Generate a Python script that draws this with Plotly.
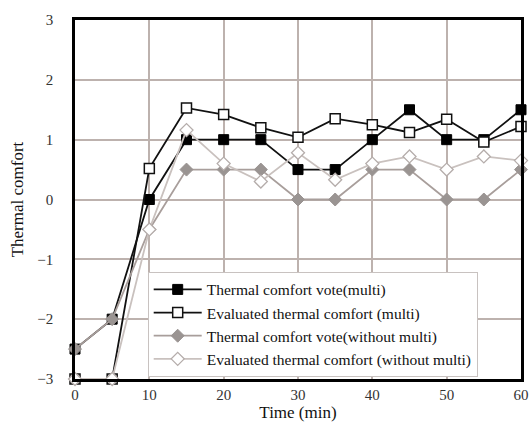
import plotly.graph_objects as go

time_min = [0, 5, 10, 15, 20, 25, 30, 35, 40, 45, 50, 55, 60]
vote_multi = [-2.5, -2, 0, 1, 1, 1, 0.5, 0.5, 1, 1.5, 1, 1, 1.5]
eval_multi = [-3, -3, 0.52, 1.53, 1.42, 1.2, 1.04, 1.35, 1.25, 1.12, 1.34, 0.96, 1.22]
vote_without = [-2.5, -2, -0.5, 0.5, 0.5, 0.5, 0, 0, 0.5, 0.5, 0, 0, 0.5]
eval_without = [-3, -3, -0.5, 1.16, 0.6, 0.3, 0.78, 0.33, 0.6, 0.72, 0.5, 0.72, 0.65]

names = [
    "Thermal comfort vote(multi)",
    "Evaluated thermal comfort (multi)",
    "Thermal comfort vote(without multi)",
    "Evaluated thermal comfort (without multi)",
]

fig = go.Figure()
fig.add_trace(go.Scatter(x=time_min, y=vote_multi, name=names[0], mode="lines+markers",
                         line=dict(color="#111111", width=1.8),
                         marker=dict(symbol="square", size=10, color="#000000",
                                     line=dict(color="#000000", width=1))))
fig.add_trace(go.Scatter(x=time_min, y=eval_multi, name=names[1], mode="lines+markers",
                         line=dict(color="#111111", width=1.8),
                         marker=dict(symbol="square", size=10, color="#ffffff",
                                     line=dict(color="#111111", width=1.5))))
fig.add_trace(go.Scatter(x=time_min, y=vote_without, name=names[2], mode="lines+markers",
                         line=dict(color="#a89e9b", width=1.8),
                         marker=dict(symbol="diamond", size=10, color="#9a9492",
                                     line=dict(color="#9a9492", width=1))))
fig.add_trace(go.Scatter(x=time_min, y=eval_without, name=names[3], mode="lines+markers",
                         line=dict(color="#c9c1be", width=1.8),
                         marker=dict(symbol="diamond", size=10, color="#ffffff",
                                     line=dict(color="#b5adab", width=1.3))))

font_family = "Liberation Serif, Times New Roman, serif"
fig.update_layout(
    width=532, height=433,
    margin=dict(l=75, r=11, t=20, b=54, autoexpand=False),
    paper_bgcolor="white", plot_bgcolor="white",
    font=dict(family=font_family, size=15, color="#222222"),
    showlegend=True,
    legend=dict(x=0.163, y=0.006, xanchor="left", yanchor="bottom",
                bgcolor="white", bordercolor="#c8c2c0", borderwidth=1,
                font=dict(family=font_family, size=15.5, color="#111111"),
                tracegroupgap=0, itemwidth=48, entrywidth=336, entrywidthmode="pixels"),
    xaxis=dict(range=[0, 60], tickvals=[0, 10, 20, 30, 40, 50, 60],
               showgrid=True, gridcolor="#bdb2ae", gridwidth=1.5,
               showline=True, linecolor="#000000", linewidth=2.5, mirror=True,
               ticks="", zeroline=False, automargin=False,
               title=dict(text="Time (min)", standoff=2, font=dict(size=17, color="#111111")),
               tickfont=dict(size=15, color="#333333")),
    yaxis=dict(range=[-3, 3], tickvals=[-3, -2, -1, 0, 1, 2, 3],
               showgrid=True, gridcolor="#bdb2ae", gridwidth=1.5,
               showline=True, linecolor="#000000", linewidth=2.5, mirror=True,
               ticks="", zeroline=False, automargin=False, ticklabelstandoff=16,
               title=dict(text="Thermal comfort", standoff=10, font=dict(size=17, color="#111111")),
               tickfont=dict(size=15, color="#333333")),
)
fig.update_traces(cliponaxis=False)

fig.write_html("out.html")
